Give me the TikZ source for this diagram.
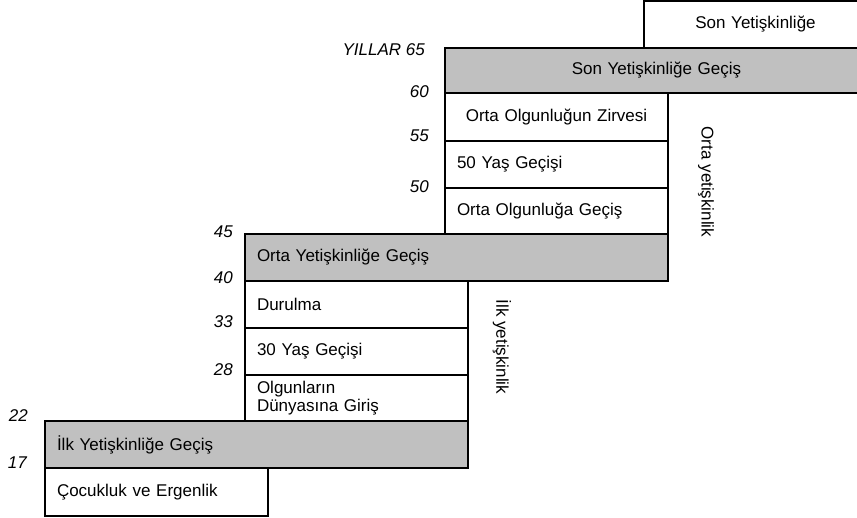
\documentclass[tikz,border=0pt]{standalone}
\usepackage{fontspec}
\setmainfont{Liberation Sans}
\definecolor{transgray}{RGB}{192,192,192}
\begin{document}
\begin{tikzpicture}[x=1bp,y=-1bp,
  stage/.style={draw=black, line width=2.6bp, fill=white, rectangle,
    anchor=north west, outer sep=0pt, inner xsep=12bp, inner ysep=0pt,
    font=\fontsize{17bp}{18bp}\selectfont, align=left},
  wide/.style={text width=399bp, minimum height=#1},
  narrow/.style={text width=199bp, minimum height=#1},
  centred/.style={align=center},
  transition/.style={stage, fill=transgray},
  year/.style={inner sep=0pt, anchor=east, font=\fontsize{17bp}{18bp}\selectfont\itshape},
  era/.style={inner sep=0pt, rotate=-90, font=\fontsize{17bp}{18bp}\selectfont}
]
\clip (0,0) rectangle (857,518);

% stages, from the top down
\node[stage, narrow=47bp, centred] (late)  at (644,1)   {Son Yetişkinliğe};
\node[transition, wide=45bp, centred] (lateT) at (445,48) {Son Yetişkinliğe Geçiş};
\node[stage, narrow=48bp, centred] (peak)  at (445,93)  {Orta Olgunluğun Zirvesi};
\node[stage, narrow=47bp] (fifty) at (445,141) {50 Yaş Geçişi};
\node[stage, narrow=46bp] (midE)  at (445,188) {Orta Olgunluğa Geçiş};
\node[transition, wide=47bp] (midT) at (245,234) {Orta Yetişkinliğe Geçiş};
\node[stage, narrow=47bp] (settle) at (245,281) {Durulma};
\node[stage, narrow=47bp] (thirty) at (245,328) {30 Yaş Geçişi};
\node[stage, narrow=46bp] (entry)  at (245,375) {Olgunların\\Dünyasına Giriş};
\node[transition, wide=47bp] (earlyT) at (45,421) {İlk Yetişkinliğe Geçiş};
\node[stage, narrow=48bp] (child)  at (45,468) {Çocukluk ve Ergenlik};

% age scale
\node[year] (y65) at (425,50)  {YILLAR 65};
\node[year] (y60) at (429,92)  {60};
\node[year] (y55) at (429,136) {55};
\node[year] (y50) at (429,187) {50};
\node[year] (y45) at (233,232) {45};
\node[year] (y40) at (233,278) {40};
\node[year] (y33) at (233,322) {33};
\node[year] (y28) at (233,370) {28};
\node[year] (y22) at (28,416)  {22};
\node[year] (y17) at (27,463)  {17};

% era labels
\node[era] (middleEra) at (706,182) {Orta yetişkinlik};
\node[era] (earlyEra)  at (502,347) {İlk yetişkinlik};
\end{tikzpicture}
\end{document}
